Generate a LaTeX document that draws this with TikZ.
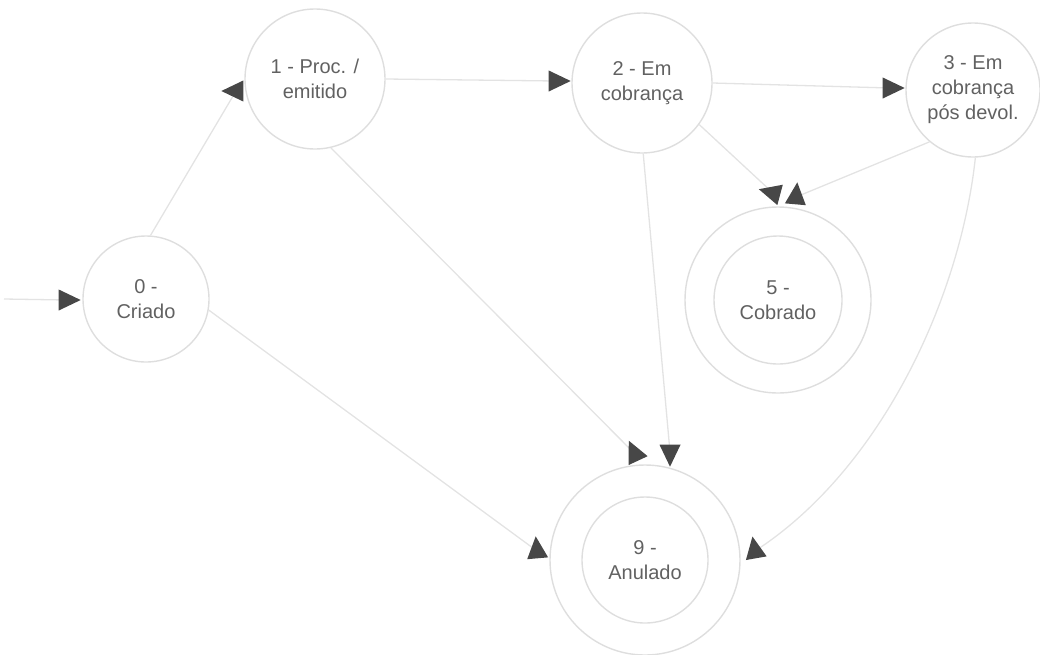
\documentclass[tikz,border=0pt]{standalone}
\usepackage{fontspec}
\setmainfont{Liberation Sans}
% filled triangular head: #1 = coordinate, #2 = pointing angle
\newcommand\tiphead[2]{%
  \fill[tipfill] ([shift={(#2:14.7pt)}]#1) -- ([shift={(#2+124.8:12.8pt)}]#1)
    -- ([shift={(#2-124.8:12.8pt)}]#1) -- cycle;}
\begin{document}
\begin{tikzpicture}[x=1pt,y=-1pt,
  state/.style={circle, draw=gray!26, line width=1.4pt, inner sep=0pt, align=center,
    text=black!62, font=\fontsize{20}{25}\selectfont},
  ring/.style={circle, draw=gray!26, line width=1.4pt, inner sep=0pt},
  link/.style={draw=gray!22, line width=1.3pt},
  tipfill/.style={fill=black!72}]
\useasboundingbox (0,0) rectangle (1040,654);

% states
\node[state, minimum size=126pt] (n0) at (146,299) {0 -\\Criado};
\node[state, minimum size=140pt] (n1) at (315,79) {1 - Proc. /\\emitido};
\node[state, minimum size=140pt] (n2) at (642,83) {2 - Em\\cobrança};
\node[state, minimum size=134pt] (n3) at (973,90) {3 - Em\\cobrança\\pós devol.};
\node[state, minimum size=128pt] (n5) at (778,300) {5 -\\Cobrado};
\node[ring, minimum size=186pt] (n5o) at (n5) {};
\node[state, minimum size=126pt] (n9) at (645,560) {9 -\\Anulado};
\node[ring, minimum size=190pt] (n9o) at (n9) {};

% arrow head positions
\coordinate (start) at (4,299);
\coordinate (hi) at (66,300);
\coordinate (h01) at (236,91);
\coordinate (h12) at (556,81);
\coordinate (h23) at (890,88);
\coordinate (h25) at (773,193);
\coordinate (h35) at (796,197);
\coordinate (h19) at (635,454);
\coordinate (h29) at (670,452);
\coordinate (h09) at (537,551);
\coordinate (h39) at (755,551);

% transitions
\draw[link] (start) -- (hi);
\draw[link] (n0.86) -- (h01);
\draw[link] (n1.0) -- (h12);
\draw[link] (n2.0) -- (h23);
\draw[link] (n2.-36) -- (h25);
\draw[link] (n3.-130) -- (h35);
\draw[link] (n1.-77) -- (h19);
\draw[link] (n2.-89) -- (h29);
\draw[link] (n0.-10) -- (h09);
\draw[link] (n3.-88) .. controls (960,300) and (880,470) .. (h39);

% heads
\tiphead{hi}{0}
\tiphead{h01}{180}
\tiphead{h12}{0}
\tiphead{h23}{0}
\tiphead{h25}{165}
\tiphead{h35}{85}
\tiphead{h19}{115}
\tiphead{h29}{270}
\tiphead{h09}{95}
\tiphead{h39}{100}
\end{tikzpicture}
\end{document}
